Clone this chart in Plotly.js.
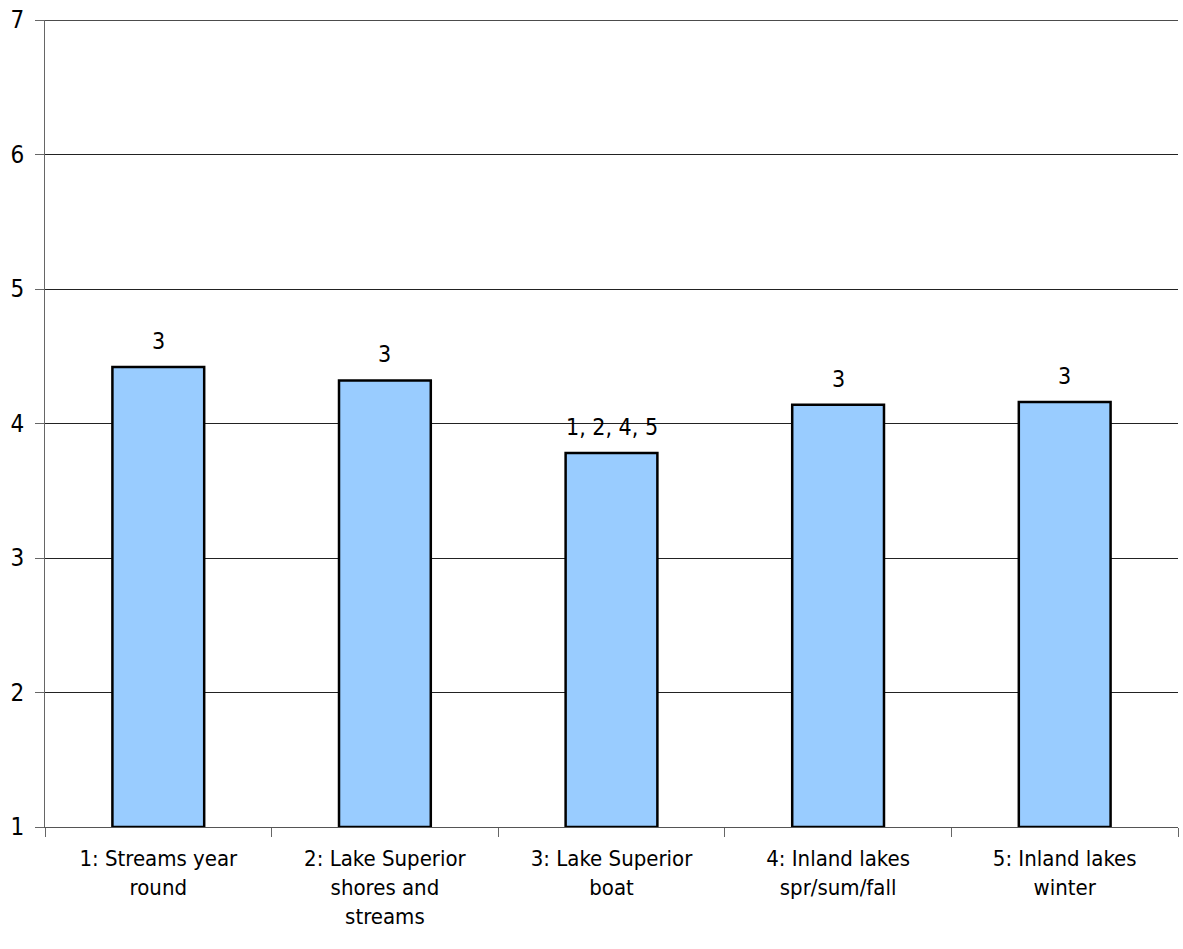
<!DOCTYPE html>
<html>
<head>
<meta charset="utf-8">
<script src="https://cdn.plot.ly/plotly-3.0.1.min.js"></script>
<style>html,body{margin:0;padding:0;background:#fff;}#chart{width:1183px;height:949px;}</style>
</head>
<body>
<div id="chart"></div>
<script>
const categories = ["1: Streams year<br>round", "2: Lake Superior<br>shores and<br>streams", "3: Lake Superior<br>boat", "4: Inland lakes<br>spr/sum/fall", "5: Inland lakes<br>winter"];
const values = [4.42, 4.32, 3.78, 4.14, 4.16];
const labels = ["3", "3", "1, 2, 4, 5", "3", "3"];
const yTicks = [1, 2, 3, 4, 5, 6, 7];
const baseValue = 1;
const yMax = 7;

const font = "'DejaVu Sans Condensed', Tahoma, 'DejaVu Sans', sans-serif";

const trace = {
  type: "bar",
  x: categories,
  y: values.map(v => v - baseValue),
  base: baseValue,
  width: 0.405,
  marker: {color: "#99ccff", line: {color: "#000000", width: 2.5}},
  hoverinfo: "skip"
};

const annotations = categories.map((c, i) => ({
  x: c, y: values[i], xref: "x", yref: "y",
  text: labels[i], showarrow: false, yanchor: "bottom", yshift: 11,
  font: {family: font, size: 23, color: "#000"}
}));

const layout = {
  width: 1183, height: 949,
  margin: {l: 45, r: 5, t: 20, b: 122},
  paper_bgcolor: "#fff", plot_bgcolor: "#fff",
  showlegend: false,
  font: {family: font, size: 22, color: "#000"},
  xaxis: {
    type: "category",
    showgrid: false,
    ticks: "outside", ticklen: 9, tickcolor: "#666", tickson: "boundaries",
    showline: true, linecolor: "#555", linewidth: 1,
    tickfont: {family: font, size: 22, color: "#000"},
    ticklabelstandoff: 12,
    range: [-0.5, 4.5]
  },
  yaxis: {
    range: [baseValue, yMax],
    tickvals: yTicks,
    showgrid: true, gridcolor: "#222", gridwidth: 1,
    showline: true, linecolor: "#666", linewidth: 1,
    ticks: "outside", ticklen: 9, tickcolor: "#666",
    zeroline: false,
    tickfont: {family: font, size: 24, color: "#000"},
    ticklabelstandoff: 6
  },
  shapes: [{
    type: "line", xref: "paper", yref: "y", x0: 0, x1: 1, y0: yMax, y1: yMax,
    line: {color: "#111", width: 1.5}
  }],
  annotations: annotations
};

Plotly.newPlot("chart", [trace], layout, {displayModeBar: false, staticPlot: true});
</script>
</body>
</html>
